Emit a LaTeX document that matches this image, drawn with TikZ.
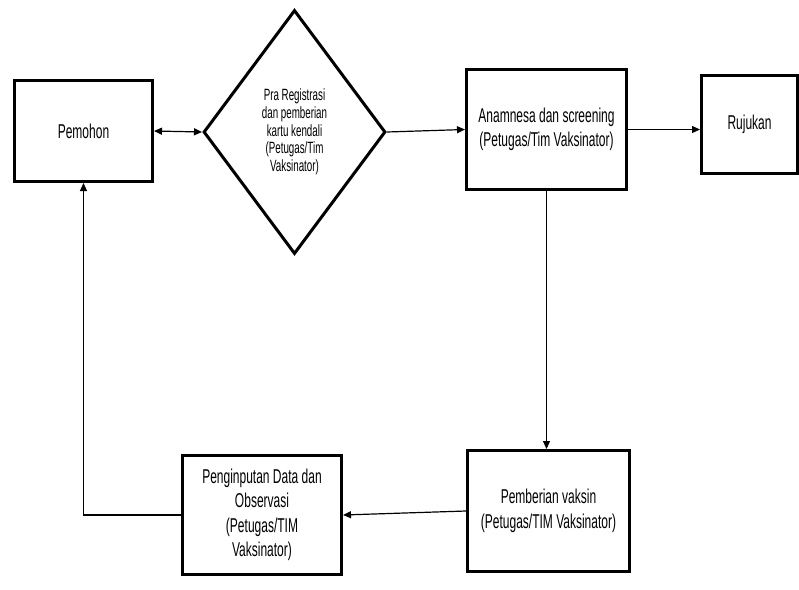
\documentclass[tikz,border=0pt]{standalone}
\usepackage{fontspec}
\setmainfont{Liberation Sans}[FakeStretch=0.6]
\usetikzlibrary{shapes.geometric,arrows.meta}

\begin{document}
\begin{tikzpicture}
[x=1pt, y=-1pt,
every node/.style={align=center,inner sep=0pt,font=\fontsize{20}{24.5}\selectfont},
box/.style={draw,line width=3.2pt,rectangle},
decision/.style={draw,line width=3pt,diamond,font=\fontsize{16.3}{17.7}\selectfont},
line/.style={line width=1.2pt,-{Triangle[length=8pt,width=7pt]}},
]
\useasboundingbox (0,0) rectangle (799,589);

\node[box,minimum width=137.8pt,minimum height=100.8pt] (pemohon) at (83.5,131) {Pemohon};
\node[decision,minimum width=182pt,minimum height=244pt] (prareg) at (294.5,132)
  {Pra Registrasi\\dan pemberian\\kartu kendali\\(Petugas/Tim\\Vaksinator)};
\node[box,minimum width=159.8pt,minimum height=119.8pt] (anamnesa) at (546.5,129.5)
  {Anamnesa dan screening\\(Petugas/Tim Vaksinator)};
\node[box,minimum width=95.8pt,minimum height=97.8pt] (rujukan) at (749.5,124.5) {Rujukan};
\node[box,minimum width=161.8pt,minimum height=120.8pt] (pemberian) at (548.5,511)
  {Pemberian vaksin\\(Petugas/TIM Vaksinator)};
\node[box,minimum width=158.8pt,minimum height=118.8pt] (penginputan) at (262,515)
  {Penginputan Data dan\\Observasi\\(Petugas/TIM\\Vaksinator)};

\draw[line,{Triangle[length=8pt,width=7pt]}-{Triangle[length=8pt,width=7pt]}] (pemohon.east) -- (prareg.west);
\draw[line] (prareg.east) -- (anamnesa.west);
\draw[line] (anamnesa.east) -- (anamnesa.east -| rujukan.west);
\draw[line] (anamnesa.south) -- (anamnesa.south |- pemberian.north);
\draw[line] (pemberian.west) -- (penginputan.east);
\draw[line] (penginputan.west) -| (pemohon.south);
\end{tikzpicture}
\end{document}
